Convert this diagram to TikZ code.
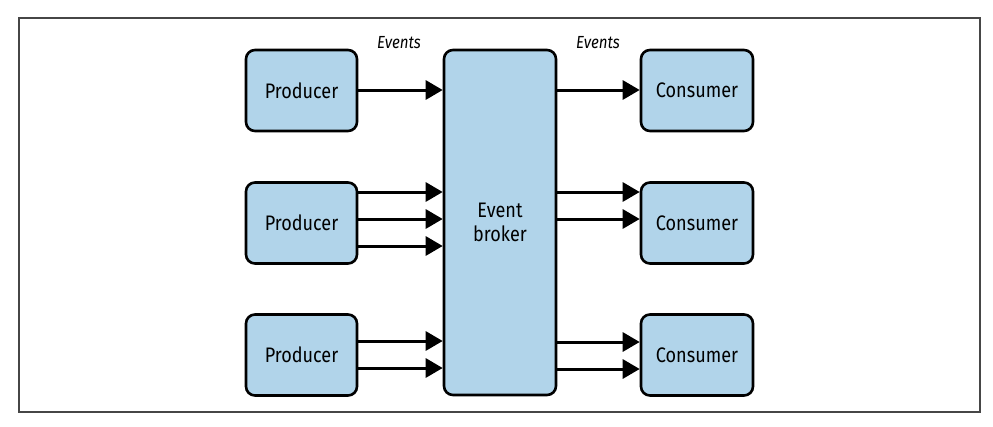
\documentclass[tikz,border=0pt]{standalone}
\usepackage{fontspec}
\setmainfont{Fira Sans}[FakeStretch=0.86]
\usetikzlibrary{arrows.meta}
\definecolor{boxblue}{RGB}{177,212,234}
\definecolor{framegray}{RGB}{70,70,70}
\begin{document}
\begin{tikzpicture}[x=1pt,y=-1pt,
  box/.style={draw=black,fill=boxblue,line width=2.6pt,rounded corners=9pt,inner sep=0pt,font=\fontsize{21}{24}\selectfont},
  flow/.style={line width=3pt,-{Triangle[length=17pt,width=19pt]}},
  lbl/.style={font=\fontsize{17.5}{19}\selectfont\itshape}]
\useasboundingbox (0,0) rectangle (993,426);
\draw[framegray,line width=1.2pt] (19,18) rectangle (980,412);
% producers
\node[box,minimum width=111pt,minimum height=81pt] (p1) at (301.5,90.5) {Producer};
\node[box,minimum width=111pt,minimum height=81pt] (p2) at (301.5,223) {Producer};
\node[box,minimum width=111pt,minimum height=81pt] (p3) at (301.5,355) {Producer};
% broker
\node[box,minimum width=112pt,minimum height=345pt,align=center] (b) at (500,222.5) {Event\\broker};
% consumers
\node[box,minimum width=112pt,minimum height=81pt] (c1) at (697,90.5) {Consumer};
\node[box,minimum width=112pt,minimum height=81pt] (c2) at (697,223) {Consumer};
\node[box,minimum width=112pt,minimum height=81pt] (c3) at (697,355) {Consumer};
% labels
\node[lbl] (e1) at (399,43) {Events};
\node[lbl] (e2) at (598,43) {Events};
% arrows producers -> broker
\draw[flow] (p1.east |- 0,90) -- (b.west |- 0,90);
\draw[flow] (p2.east |- 0,192) -- (b.west |- 0,192);
\draw[flow] (p2.east |- 0,219) -- (b.west |- 0,219);
\draw[flow] (p2.east |- 0,246) -- (b.west |- 0,246);
\draw[flow] (p3.east |- 0,341) -- (b.west |- 0,341);
\draw[flow] (p3.east |- 0,368) -- (b.west |- 0,368);
% arrows broker -> consumers
\draw[flow] (b.east |- 0,90) -- (c1.west |- 0,90);
\draw[flow] (b.east |- 0,192) -- (c2.west |- 0,192);
\draw[flow] (b.east |- 0,219) -- (c2.west |- 0,219);
\draw[flow] (b.east |- 0,342) -- (c3.west |- 0,342);
\draw[flow] (b.east |- 0,369) -- (c3.west |- 0,369);
\end{tikzpicture}
\end{document}
